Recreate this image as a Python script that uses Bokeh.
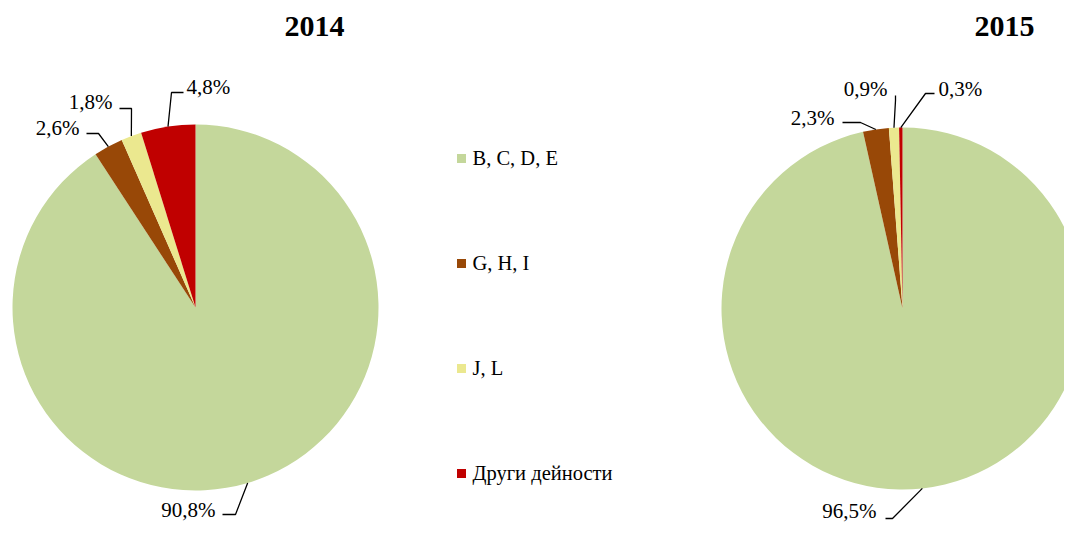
import math
from bokeh.plotting import figure
from bokeh.models import Range1d
from bokeh.core.properties import value
from bokeh.embed import file_html
from bokeh.resources import INLINE

# ---- data ----
categories = ["B, C, D, E", "G, H, I", "J, L", "Други дейности"]
colors = ["#C4D79B", "#984807", "#EBE88F", "#C00000"]
years = ["2014", "2015"]
shares_2014 = [90.8, 2.6, 1.8, 4.8]
shares_2015 = [96.5, 2.3, 0.9, 0.3]
label_texts_2014 = ["90,8%", "2,6%", "1,8%", "4,8%"]
label_texts_2015 = ["96,5%", "2,3%", "0,9%", "0,3%"]

# ---- layout (image pixel coordinates) ----
W, H = 1064, 524
FONT = "Liberation Serif"

def Y(img_y):
    return H - img_y

pies = [
    dict(cx=195, cy=307, r=183, vals=shares_2014, labels=label_texts_2014,
         title_x=314,
         # (elbow, end, text anchor, align) per slice
         leaders=[((235, 514), (222, 514), (215, 509), "right"),
                  ((98, 133), (86, 133), (79, 127), "right"),
                  ((131, 108), (119, 108), (112, 101), "right"),
                  ((171, 92), (183, 92), (186, 86), "left")]),
    dict(cx=902, cy=308, r=181, vals=shares_2015, labels=label_texts_2015,
         title_x=1004,
         leaders=[((892, 518), (885, 518), (876, 510), "right"),
                  ((860, 122), (842, 122), (834, 117), "right"),
                  ((895, 100), (895, 95), (865, 88), "center"),
                  ((925, 93), (934, 93), (938, 88), "left")]),
]

p = figure(width=W, height=H, output_backend="svg", toolbar_location=None,
           x_range=Range1d(0, W), y_range=Range1d(0, H),
           min_border=0, outline_line_color=None)
p.axis.visible = False
p.grid.visible = False
p.background_fill_color = "white"
p.border_fill_color = "white"

for yr, pie in zip(years, pies):
    vals = pie["vals"]
    total = sum(vals)
    cum = 0.0
    starts, ends, mids = [], [], []
    for v in vals:
        a0 = math.pi / 2 - 2 * math.pi * cum / total
        cum += v
        a1 = math.pi / 2 - 2 * math.pi * cum / total
        starts.append(a0)
        ends.append(a1)
        mids.append((a0 + a1) / 2)
    n = len(vals)
    p.wedge(x=[pie["cx"]] * n, y=[Y(pie["cy"])] * n, radius=pie["r"],
            start_angle=starts, end_angle=ends, direction="clock",
            fill_color=colors, line_color=None)
    xs, ys = [], []
    for m, (elbow, end, anchor, align), lab in zip(mids, pie["leaders"], pie["labels"]):
        ex = pie["cx"] + pie["r"] * math.cos(m)
        ey = Y(pie["cy"]) + pie["r"] * math.sin(m)
        xs.append([ex, elbow[0], end[0]])
        ys.append([ey, Y(elbow[1]), Y(end[1])])
        p.text(x=[anchor[0]], y=[Y(anchor[1])], text=[lab], text_align=align,
               text_baseline="middle", text_font=value(FONT),
               text_font_size="21px", text_color="black")
    p.multi_line(xs=xs, ys=ys, line_color="black", line_width=1.3)
    p.text(x=[pie["title_x"]], y=[Y(26)], text=[yr], text_align="center",
           text_baseline="middle", text_font=value(FONT), text_font_size="30px",
           text_font_style="bold", text_color="black")

# ---- legend ----
leg_x, leg_y0, leg_dy = 461, 158, 105
ly = [Y(leg_y0 + i * leg_dy) for i in range(len(categories))]
p.rect(x=[leg_x] * len(categories), y=ly, width=9, height=9,
       width_units="screen", height_units="screen", fill_color=colors, line_color=None)
p.text(x=[leg_x + 11] * len(categories), y=[v + 1 for v in ly], text=categories,
       text_align="left", text_baseline="middle", text_font=value(FONT),
       text_font_size="20.5px", text_color="black")

open("out.html", "w").write(file_html(p, INLINE))
